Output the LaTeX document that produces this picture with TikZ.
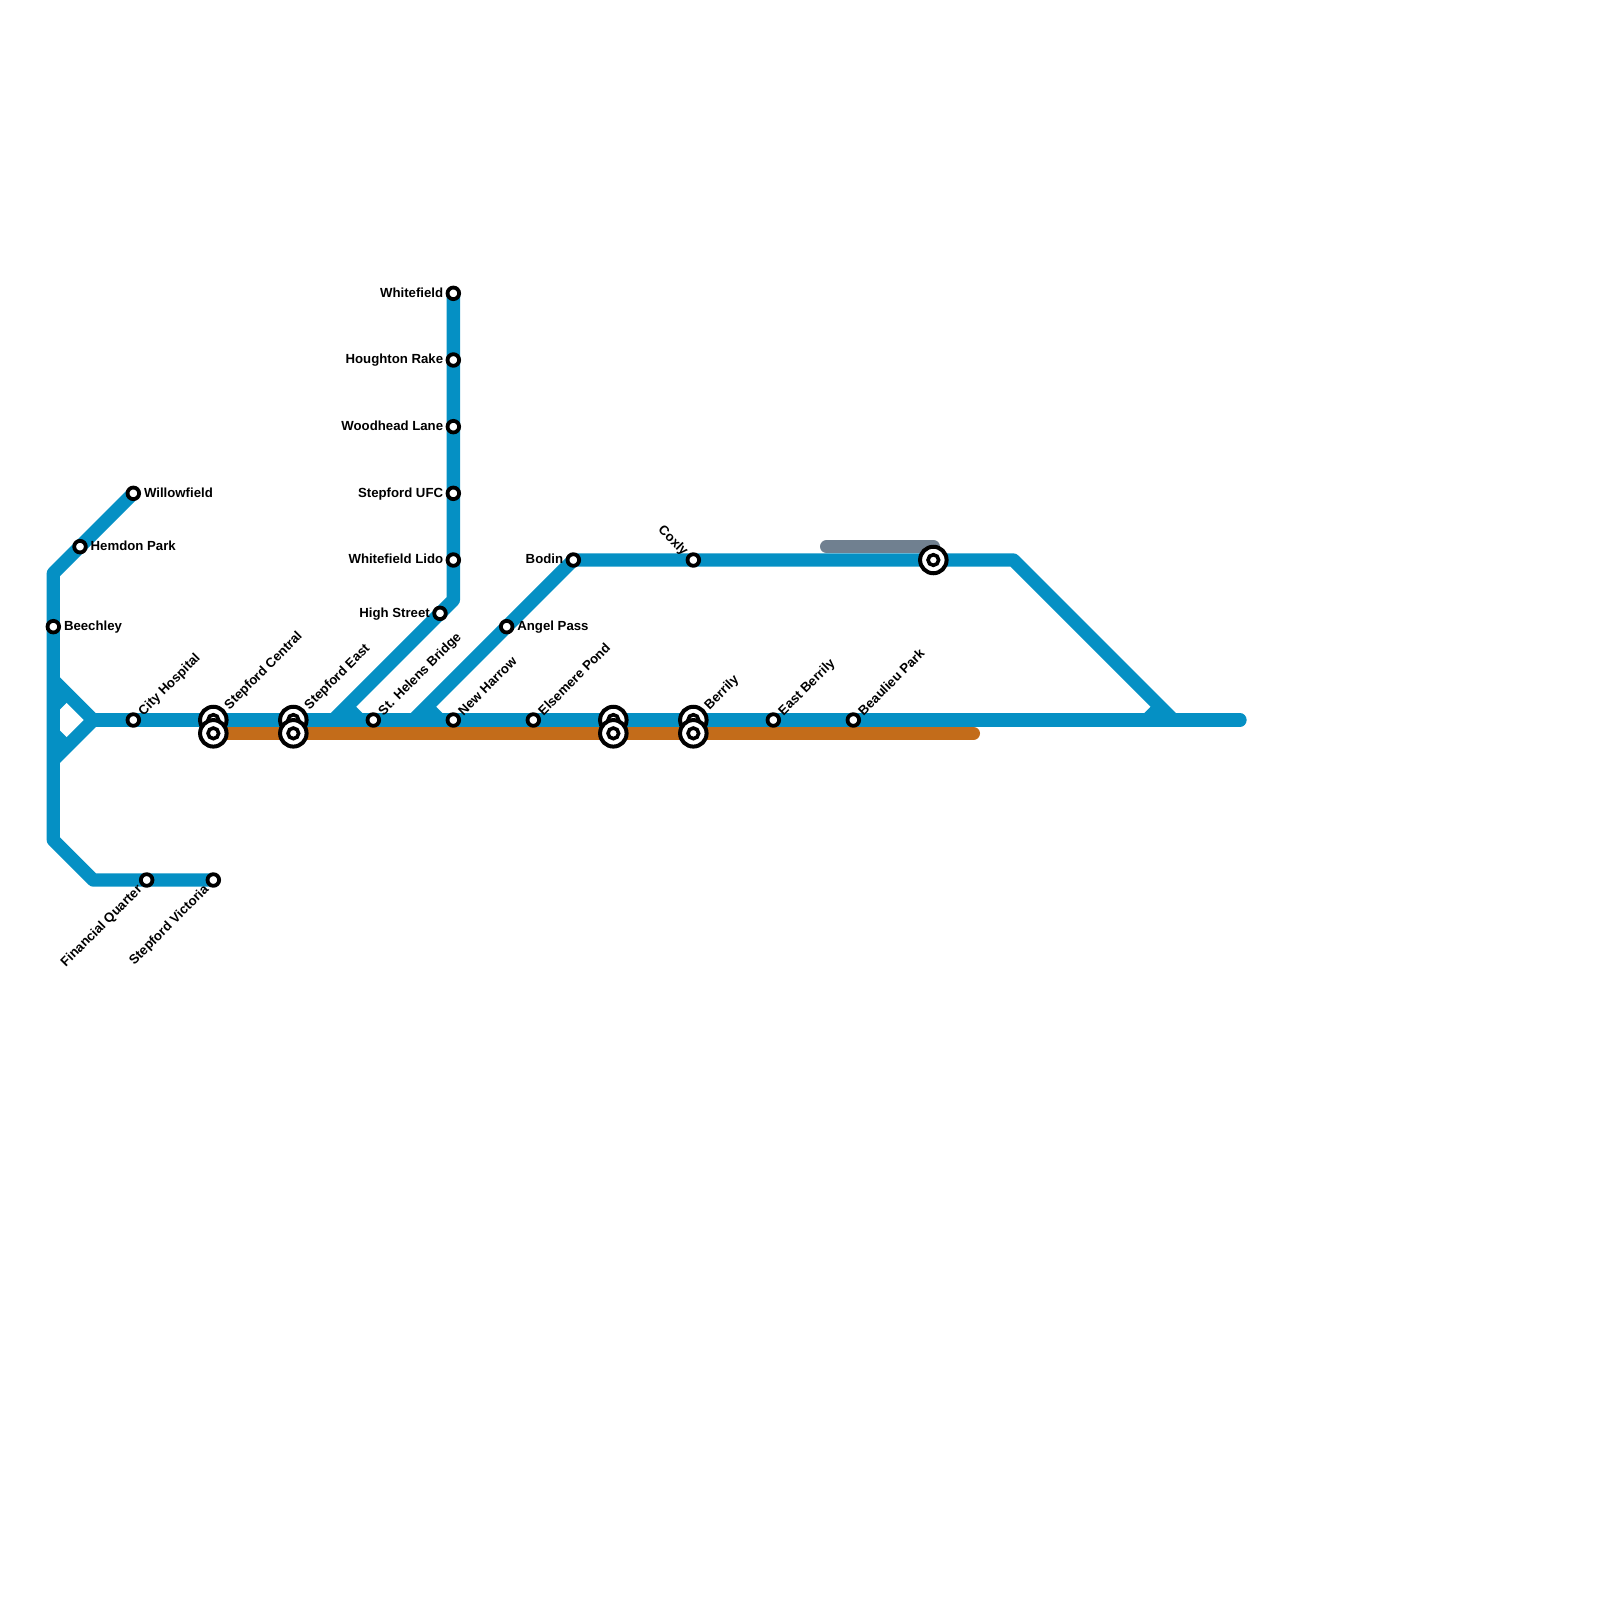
\documentclass[tikz,border=0pt]{standalone}
\usepackage{fontspec}
\setmainfont{Liberation Sans}
\usetikzlibrary{backgrounds}
\definecolor{lineblue}{RGB}{5,144,196}
\definecolor{lineorange}{RGB}{195,108,26}
\definecolor{linegray}{RGB}{112,128,144}
\tikzset{
  metro/.style={line width=13.33pt, line join=round, draw=lineblue},
  stn/.style={circle, draw=black, fill=white, line width=3.8pt, inner sep=0pt, minimum size=11.6pt},
  hub/.style={circle, draw=black, fill=white, line width=4pt, inner sep=0pt, minimum size=26.5pt},
  hubin/.style={circle, draw=black, fill=white, line width=3.6pt, inner sep=0pt, minimum size=10.6pt},
  lbl/.style={font=\fontsize{13.2}{15}\selectfont\bfseries, inner sep=0pt, text=black},
  lblr/.style={lbl, anchor=base west, xshift=10.5pt, yshift=-3.8pt},
  lbll/.style={lbl, anchor=base east, xshift=-10pt, yshift=-3.8pt},
  lblup/.style={lbl, anchor=base west, rotate=45, xshift=9.9pt, yshift=-4.5pt},
  lblhub/.style={lbl, anchor=base west, rotate=45, xshift=18.4pt, yshift=-4.5pt},
  lbldn/.style={lbl, anchor=base east, rotate=45, xshift=-9.9pt, yshift=-4.5pt},
  lblco/.style={lbl, anchor=base east, rotate=-45, xshift=-9.9pt, yshift=-4.5pt},
}
\newcommand{\stat}[3]{\node[stn] (#1) at (#2,#3) {};}
\newcommand{\hubb}[3]{\node[hub] (#1) at (#2,#3) {}; \node[hubin] (#1i) at (#1) {};}
\begin{document}
\begin{tikzpicture}[x=1pt,y=-1pt]
\useasboundingbox (0,0) rectangle (1600,1600);
% bends and free ends
\coordinate (bTop) at (53.33,573.33);
\coordinate (bLow) at (53.33,840);
\coordinate (bFoot) at (93.33,880);
\coordinate (bMid) at (93.33,720);
\coordinate (bUp) at (53.33,680);
\coordinate (bDn) at (53.33,760);
\coordinate (sUa) at (53.33,706.67);
\coordinate (sUb) at (66.67,693.33);
\coordinate (sDa) at (53.33,733.33);
\coordinate (sDb) at (66.67,746.67);
\coordinate (bWf) at (453.33,600);
\coordinate (bSe) at (333.33,720);
\coordinate (sEa) at (346.67,706.67);
\coordinate (sEb) at (360,720);
\coordinate (bNh) at (413.33,720);
\coordinate (sNa) at (426.67,706.67);
\coordinate (sNb) at (440,720);
\coordinate (bEa) at (1013.33,560);
\coordinate (bEb) at (1173.33,720);
\coordinate (sRa) at (1160,706.67);
\coordinate (sRb) at (1146.67,720);
\coordinate (endB) at (1240,720);
\coordinate (endO) at (973.33,733.33);
\coordinate (endGa) at (826.67,546.67);
\coordinate (endGb) at (933.33,546.67);
% stations
\stat{willowfield}{133.33}{493.33}
\stat{hemdon}{80}{546.67}
\stat{beechley}{53.33}{626.67}
\stat{cityhosp}{133.33}{720}
\stat{finquarter}{146.67}{880}
\stat{stepvic}{213.33}{880}
\stat{sthelens}{373.33}{720}
\stat{newharrow}{453.33}{720}
\stat{elsemere}{533.33}{720}
\stat{eastberrily}{773.33}{720}
\stat{beaulieu}{853.33}{720}
\stat{whitefield}{453.33}{293.33}
\stat{houghton}{453.33}{360}
\stat{woodhead}{453.33}{426.67}
\stat{stepufc}{453.33}{493.33}
\stat{wflido}{453.33}{560}
\stat{highst}{440}{613.33}
\stat{angel}{506.67}{626.67}
\stat{bodin}{573.33}{560}
\stat{coxly}{693.33}{560}
\hubb{stepcA}{213.33}{720}
\hubb{stepcB}{213.33}{733.33}
\hubb{stepeA}{293.33}{720}
\hubb{stepeB}{293.33}{733.33}
\hubb{midA}{613.33}{720}
\hubb{midB}{613.33}{733.33}
\hubb{berrA}{693.33}{720}
\hubb{berrB}{693.33}{733.33}
\hubb{grayhub}{933.33}{560}
% lines
\begin{scope}[on background layer]
\draw[metro, draw=linegray, line cap=round] (endGa) -- (endGb);
\draw[metro, draw=lineorange, line cap=round] (stepcB.center) -- (endO);
\draw[metro] (willowfield.center) -- (bTop) -- (bLow) -- (bFoot) -- (stepvic.center);
\draw[metro] (bUp) -- (bMid) -- (bDn);
\draw[metro] (sUa) -- (sUb);
\draw[metro] (sDa) -- (sDb);
\draw[metro, line cap=round] (bMid) -- (endB);
\draw[metro] (whitefield.center) -- (bWf) -- (bSe);
\draw[metro] (sEa) -- (sEb);
\draw[metro] (bNh) -- (bodin.center) -- (bEa) -- (bEb);
\draw[metro] (sNa) -- (sNb);
\draw[metro] (sRa) -- (sRb);
\end{scope}
% labels
\node[lblr] (lWillow) at (willowfield) {Willowfield};
\node[lblr] (lHemdon) at (hemdon) {Hemdon Park};
\node[lblr] (lBeech) at (beechley) {Beechley};
\node[lblr] (lAngel) at (angel) {Angel Pass};
\node[lbll] (lWhite) at (whitefield) {Whitefield};
\node[lbll] (lHough) at (houghton) {Houghton Rake};
\node[lbll] (lWood) at (woodhead) {Woodhead Lane};
\node[lbll] (lUfc) at (stepufc) {Stepford UFC};
\node[lbll] (lLido) at (wflido) {Whitefield Lido};
\node[lbll] (lHigh) at (highst) {High Street};
\node[lbll] (lBodin) at (bodin) {Bodin};
\node[lblup] (lCity) at (cityhosp) {City Hospital};
\node[lblhub] (lStepc) at (stepcA) {Stepford Central};
\node[lblhub] (lStepe) at (stepeA) {Stepford East};
\node[lblup] (lHelens) at (sthelens) {St. Helens Bridge};
\node[lblup] (lHarrow) at (newharrow) {New Harrow};
\node[lblup] (lElse) at (elsemere) {Elsemere Pond};
\node[lblhub] (lBerr) at (berrA) {Berrily};
\node[lblup] (lEast) at (eastberrily) {East Berrily};
\node[lblup] (lBeau) at (beaulieu) {Beaulieu Park};
\node[lbldn] (lFin) at (finquarter) {Financial Quarter};
\node[lbldn] (lVic) at (stepvic) {Stepford Victoria};
\node[lblco] (lCoxly) at (coxly) {Coxly};
\end{tikzpicture}
\end{document}
